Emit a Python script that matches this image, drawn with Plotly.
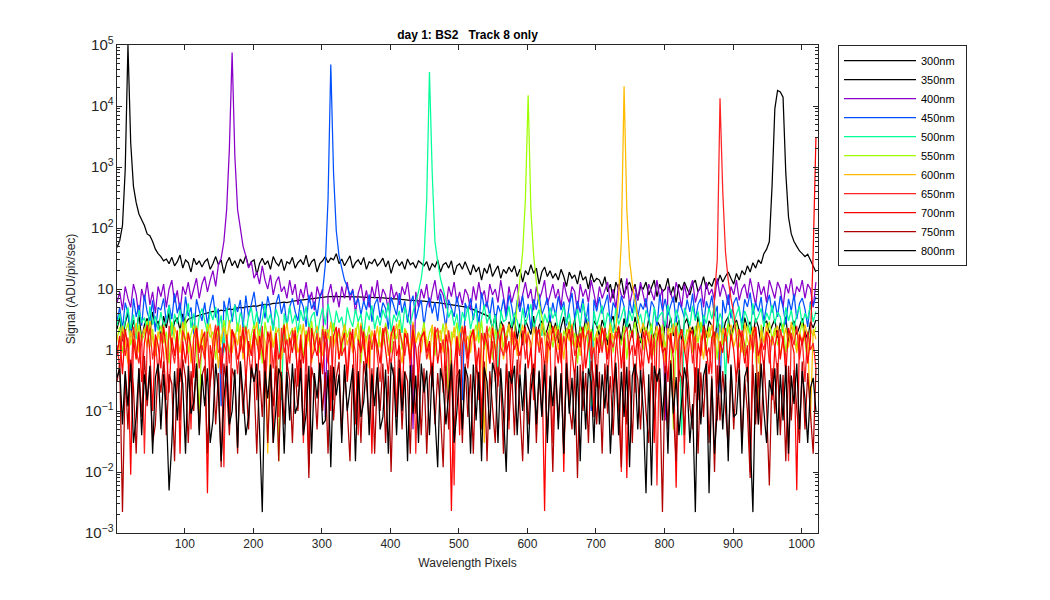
import plotly.graph_objects as go

# pixel index grid (every 4th pixel of the 1024-pixel detector)
pixels = list(range(1, 1024, 4))

labels = ["300nm", "350nm", "400nm", "450nm", "500nm", "550nm",
          "600nm", "650nm", "700nm", "750nm", "800nm"]
colors = ["#000000", "#000000", "#8a00c8", "#0050ff", "#00ff99", "#a0ff00",
          "#ffbb00", "#ff2222", "#ff0000", "#b00000", "#000000"]

s300 = [
 2.2, 3.5, 1.4, 2.8, 4, 1.7, 3.1, 2, 3.8, 1.5, 2.6, 3.3, 1.9, 4.2, 2.4, 3,
 1.6, 3.6, 2.3, 4.1, 1.8, 2.9, 3.4, 2.1, 3.9, 2.7, 3.2, 3.4, 3.5, 3.6, 3.7, 3.8,
 3.9, 4.0, 4.1, 4.3, 4.2, 4.3, 4.5, 4.4, 4.6, 4.7, 4.6, 4.8, 4.9, 5.0, 4.9, 5.1,
 5.1, 5.2, 5.3, 5.2, 5.4, 5.5, 5.6, 5.5, 5.7, 5.8, 5.8, 5.9, 6.0, 6.1, 6.0, 6.2,
 6.3, 6.4, 6.5, 6.6, 6.6, 6.8, 6.9, 7.0, 7.1, 7.2, 7.3, 7.3, 7.4, 7.5, 7.5, 7.6,
 7.6, 7.5, 7.6, 7.5, 7.5, 7.4, 7.5, 7.4, 7.4, 7.3, 7.4, 7.3, 7.3, 7.2, 7.3, 7.2,
 7.2, 7.1, 7.1, 7.0, 7.0, 6.9, 6.9, 6.8, 6.7, 6.7, 6.6, 6.5, 6.5, 6.4, 6.4, 6.3,
 6.3, 6.2, 6.2, 6.1, 6.0, 6.0, 5.9, 5.9, 5.8, 5.7, 5.6, 5.5, 5.4, 5.3, 5.2, 5.1,
 5.0, 4.8, 4.6, 4.4, 4.2, 4.0, 3.8, 3.7, 3.5, 2.2, 3.9, 1.6, 3, 2.4, 1.3, 2.9,
 2.1, 3.4, 1.5, 2.7, 1.2, 3.1, 2.3, 1.8, 3.6, 1.4, 2.5, 3, 1.7, 2.2, 3.3, 1.9,
 2.8, 1.3, 2.4, 3.5, 1.6, 2.9, 2, 3.2, 1.1, 2.6, 1.8, 3.4, 2.2, 1.5, 3, 2.5,
 1.7, 3.1, 2.3, 1.2, 2.8, 3.6, 1.9, 2.4, 1.4, 3.3, 2.1, 2.7, 1.6, 3.5, 2, 1.3,
 2.6, 1.8, 3.2, 2.2, 1.5, 3, 2.5, 1.1, 2.9, 2, 3.4, 1.7, 2.3, 3.1, 1.4, 2.7,
 3.3, 1.9, 2.4, 1.3, 3.6, 2.1, 2.8, 1.6, 3, 2.5, 1.2, 3.2, 2.2, 1.8, 2.9, 3.5,
 1.5, 2.6, 3.1, 2, 1.4, 3.4, 2.3, 2.9, 1.7, 3.3, 2.4, 1.2, 2.7, 3, 1.9, 2.5,
 3.2, 1.6, 2.8, 2.2, 3.5, 1.3, 2.5, 3, 1.8, 2.4, 3.3, 2, 1.5, 2.9, 2.3, 3.1]

s350 = [
 48, 62, 110, 900, 100000, 2500, 480, 260, 170, 140, 110, 80, 75, 60, 45, 38,
 34, 29, 31, 26, 33, 24, 28, 36, 22, 30, 27, 19, 32, 25, 29, 23,
 28, 31, 21, 26, 34, 25, 30, 18, 27, 33, 24, 29, 22, 31, 26, 35,
 23, 28, 30, 17, 26, 32, 25, 29, 21, 34, 27, 24, 31, 20, 28, 26,
 33, 22, 27, 30, 25, 36, 23, 28, 31, 19, 26, 29, 34, 27, 32, 30,
 38, 26, 31, 24, 29, 35, 22, 27, 30, 25, 33, 21, 28, 26, 31, 24,
 27, 32, 23, 29, 18, 26, 30, 24, 28, 21, 31, 25, 27, 22, 29, 26,
 24, 28, 20, 26, 23, 30, 19, 25, 27, 22, 29, 17, 24, 26, 21, 28,
 21, 17, 25, 19, 23, 14, 22, 18, 26, 16, 20, 24, 15, 21, 18, 23,
 19, 24, 16, 21, 13, 20, 17, 25, 18, 22, 12, 19, 23, 16, 20, 15,
 18, 14, 21, 16, 11, 19, 15, 17, 12, 20, 14, 16, 10, 18, 13, 15,
 14, 11, 16, 9, 12, 7, 13, 10, 15, 8, 11, 13, 9, 12, 6.5, 11,
 10, 13, 8, 11, 14, 7.5, 12, 9, 10, 15, 8, 11, 6, 12, 9.5, 13,
 10, 8, 12, 14, 9, 11, 16, 10, 13, 11, 15, 12, 17, 13, 16, 19,
 15, 12, 18, 14, 20, 17, 24, 19, 27, 22, 30, 26, 38, 45, 60, 500,
 9000, 18000, 17000, 14000, 800, 150, 80, 60, 50, 42, 38, 34, 37, 30, 24, 19]

s400 = [
 6, 9, 4.5, 11, 7, 5, 12, 8, 3.5, 10, 6.5, 13, 5.5, 9, 4, 11,
 7.5, 12, 5, 10, 14, 6, 9.5, 4.2, 11, 8, 13, 6.8, 10, 15, 7, 12,
 16, 9, 14, 20, 11, 25, 32, 60, 200, 2000, 75000, 1500, 200, 90, 50, 35,
 22, 28, 15, 19, 12, 24, 14, 10, 17, 8, 13, 16, 9, 11, 7, 14,
 8, 12, 5.5, 10, 7, 13, 6, 9, 4.5, 11, 7.5, 10, 0.08, 8, 12, 6,
 9, 5, 11, 7, 13, 6.5, 10, 4, 8.5, 12, 6, 9.5, 5, 11, 7, 14,
 6, 10, 8, 4.5, 12, 7, 9, 5.5, 11, 8, 13, 6, 0.05, 9, 5, 10,
 7, 12, 5, 9, 14, 6.5, 10, 8, 4.8, 11, 7.5, 13, 6, 9, 5.5, 10,
 8, 4.5, 11, 6.5, 13, 7, 9.5, 5, 12, 8, 10, 6, 14, 7.5, 4, 11,
 6, 9, 12, 5, 8, 13, 7, 10, 4.5, 11, 6.5, 9, 14, 5.5, 8, 12,
 7, 10, 5, 13, 8, 6, 11, 9, 4.2, 12, 7.5, 10, 6, 14, 8.5, 5,
 11, 7, 9.5, 13, 6, 10, 4.8, 12, 8, 7, 15, 5.5, 9, 11, 6.5, 13,
 8, 5, 12, 9, 6.5, 14, 7, 10, 0.07, 11, 8.5, 6, 13, 9, 5, 12,
 7, 10, 14, 6, 9, 11.5, 5, 13, 8, 10, 6.5, 15, 7.5, 12, 9, 5.5,
 11, 8, 14, 6.5, 10, 12, 7, 15, 9, 5.5, 13, 8, 11, 6, 14, 9.5,
 7, 13, 10, 5, 12, 8.5, 15, 6.5, 11, 9, 14, 7, 12, 10, 5, 13]

s450 = [
 3, 5, 2.2, 6, 4, 1.6, 7, 3.5, 5.5, 2.5, 8, 4.2, 3, 6.5, 2, 5,
 4.5, 7, 2.8, 5.5, 3.2, 8.5, 4, 6, 2.4, 7.5, 3.6, 5, 1.8, 6.8, 4.4, 3,
 6, 2.6, 5.2, 8, 3.4, 4.8, 0.12, 6.4, 3.8, 7.2, 2.9, 5.6, 4.2, 6.6, 2.3, 7.8,
 3.5, 5.4, 9, 4, 2.7, 6.2, 3.3, 7.6, 4.6, 2.1, 5.8, 8.2, 3.9, 6, 2.5, 5.1,
 7, 4.3, 3, 6.8, 5, 2.4, 8, 4.7, 6.2, 3.6, 7.4, 9, 25, 300, 48000, 800,
 90, 35, 22, 14, 11, 8, 9.5, 5.5, 7, 3.8, 6.4, 4.5, 8.2, 2.9, 5.6, 7,
 3.4, 6, 4.8, 2.2, 7.4, 5.2, 3.7, 8.6, 4.1, 6.3, 2.8, 5.7, 7.8, 3.2, 4.9, 6.6,
 2.5, 5.3, 7.2, 4, 6.1, 3, 8.4, 4.6, 2.3, 6.7, 5, 3.5, 7.6, 4.3, 0.15, 5.9,
 4.4, 7, 3.1, 5.8, 2.6, 8.8, 4.9, 6.2, 3.6, 7.3, 2.9, 5.4, 4, 6.9, 3.3, 8,
 5.2, 2.7, 6.6, 4.2, 7.9, 3.4, 5.7, 2.2, 6.8, 4.6, 8.3, 3.8, 5.1, 7.2, 2.9, 6,
 3.6, 7.6, 4.5, 6.2, 2.5, 5.5, 8.6, 3.2, 6.4, 4.1, 7, 2.8, 5.9, 0.1, 6.7, 4.3,
 7.4, 3.9, 5.6, 8.1, 2.6, 6, 4.7, 3.3, 7.7, 5.2, 2.4, 6.5, 4, 8.5, 3.5, 5.8,
 4.6, 7.1, 3, 6.3, 5, 2.3, 8, 4.4, 6.9, 3.7, 5.4, 7.5, 2.8, 6.1, 4.8, 3.4,
 6.7, 4.2, 8.4, 3.1, 5.6, 7, 2.5, 6.3, 4.5, 7.8, 3.6, 5.3, 0.2, 6.6, 4, 8.2,
 3.3, 5.9, 7.3, 4.6, 2.7, 6.8, 5.1, 8.7, 3.8, 6, 4.3, 7.4, 2.9, 5.5, 8, 4.1,
 6.4, 3.5, 7.7, 5, 2.6, 6.9, 4.4, 8.3, 3.2, 5.8, 7.1, 4.7, 2.4, 6.2, 5.3, 7.5]

s500 = [
 2.5, 4, 1.8, 3.2, 5, 2.2, 3.8, 1.5, 4.5, 2.8, 3.4, 1.9, 5.2, 2.6, 3.6, 2.1,
 4.2, 2.4, 3, 5.4, 1.7, 3.9, 2.7, 4.6, 2, 3.3, 5.8, 2.3, 4, 1.6, 3.5, 4.8,
 2.9, 1.9, 4.4, 3.1, 5.1, 2.2, 3.7, 0.9, 4.9, 2.6, 3.4, 5.5, 2, 4.1, 3, 1.8,
 3.6, 5, 2.4, 4.3, 1.7, 3.2, 5.6, 2.8, 3.9, 2.1, 4.7, 3.3, 0.15, 4, 2.5, 5.3,
 2.7, 3.8, 1.9, 4.5, 3, 5.2, 2.3, 3.6, 4.2, 1.6, 3.1, 4.9, 2.6, 5.7, 3.4, 2,
 4.4, 2.8, 3.5, 1.8, 5, 3.2, 2.4, 4.7, 2.9, 3.9, 1.7, 4.3, 3.1, 5.4, 2.2, 3.7,
 2.5, 4.6, 3.3, 5.9, 2, 3.8, 2.9, 4.4, 1.9, 5.1, 3.5, 2.6, 4.2, 6, 9, 15,
 32, 300, 36000, 800, 60, 28, 15, 10, 6.5, 3.4, 4.6, 2.5, 3.9, 1.8, 4.2, 3,
 5.1, 2.2, 3.6, 4.8, 1.6, 3.3, 5.5, 2.7, 4, 2.1, 3.8, 0.3, 4.5, 2.9, 3.2, 5.3,
 2.4, 4.1, 3, 1.9, 4.9, 2.6, 3.7, 5.6, 2.2, 3.4, 4.6, 1.7, 3.9, 2.8, 5, 3.3,
 4.3, 2, 3.5, 5.2, 2.7, 4, 1.8, 3.1, 4.7, 2.4, 5.8, 3.6, 2.9, 0.12, 4.4, 2.5,
 3.8, 5.4, 2.3, 4.1, 3.2, 1.9, 4.8, 2.6, 3.5, 5.1, 2.1, 4.4, 3, 5.7, 2.7, 3.9,
 2.2, 4.5, 3.4, 1.7, 5, 2.9, 3.7, 4.2, 2.4, 5.5, 3.1, 2, 4.6, 3.3, 0.04, 4.9,
 3.6, 2.5, 5.3, 3, 4.3, 1.9, 3.8, 2.7, 4.9, 3.2, 5.6, 2.3, 4, 2.9, 0.3, 3.5,
 4.7, 2.6, 3.9, 5.2, 2.1, 4.4, 3.3, 1.8, 5.8, 2.8, 3.6, 4.8, 2.4, 4.1, 3.1, 5.5,
 2.7, 4.2, 3.5, 1.9, 5, 3, 4.5, 2.3, 3.8, 5.3, 2.6, 4, 3.2, 5.6, 2.9, 4.3]

s550 = [
 1.5, 2.4, 0.9, 1.9, 2.8, 1.2, 2.1, 0.7, 2.6, 1.4, 1.8, 3, 1.1, 2.2, 0.8, 1.7,
 2.5, 1.3, 2, 0.6, 2.9, 1.6, 1, 2.3, 1.4, 3.2, 0.9, 1.8, 2.6, 1.2, 0.08, 2.1,
 1.1, 2.7, 1.6, 2, 0.7, 2.4, 1.3, 3.1, 1.7, 0.9, 2.2, 1.5, 2.8, 1, 1.9, 2.5,
 0.8, 1.8, 2.6, 1.2, 2.2, 0.6, 2.9, 1.5, 1.9, 1.1, 2.4, 0.015, 2, 2.7, 1.3, 1.7,
 2.3, 1, 1.8, 2.6, 0.7, 2.1, 1.4, 3, 1.2, 1.9, 0.9, 2.5, 1.6, 2.2, 1.1, 2.8,
 1.3, 2, 0.8, 2.7, 1.6, 2.3, 1, 1.8, 2.9, 0.6, 2.2, 1.4, 2.5, 1.1, 1.9, 0.9,
 2.4, 1.2, 2.8, 1.7, 0.9, 2.1, 1.5, 3.1, 1, 2.3, 1.8, 0.7, 2.6, 1.3, 2, 1.6,
 2.9, 1.1, 1.9, 2.5, 0.8, 2.2, 1.4, 2.7, 1.2, 0.15, 2, 1.6, 2.8, 1, 2.3, 1.5,
 0.9, 2.1, 1.7, 2.6, 1.3, 3, 1, 1.8, 2.4, 0.7, 2.2, 1.5, 2.7, 1.1, 1.9, 2.5,
 1.2, 2, 5, 15, 40, 300, 15000, 200, 35, 13, 6, 3.5, 2.3, 1.4, 2.8, 1.1,
 1.8, 2.5, 0.8, 2.1, 1.5, 2.9, 1.2, 1.9, 0.6, 2.4, 1.6, 2.7, 1, 2.2, 1.4, 1.9,
 2.6, 1.1, 2, 1.5, 2.8, 0.9, 2.3, 1.7, 1.2, 2.5, 0.7, 2.1, 1.8, 2.9, 1.3, 1.6,
 1, 2.4, 1.6, 2.7, 0.8, 2, 1.4, 2.6, 1.1, 1.9, 2.3, 0.05, 2.8, 1.5, 2.1, 1.2,
 2.2, 1.7, 0.9, 2.5, 1.3, 2.9, 1.8, 1, 2.4, 1.5, 2, 0.7, 2.6, 1.2, 1.9, 2.7,
 1.4, 2.1, 2.8, 1.1, 1.7, 0.8, 2.5, 1.6, 2.2, 1, 0.1, 2.6, 1.3, 2, 2.9, 1.5,
 2.3, 1.2, 1.9, 2.7, 0.9, 2.1, 1.6, 2.5, 1.1, 1.8, 2.8, 1.4, 0.6, 2.2, 1.7, 2.4]

s600 = [
 1.8, 1, 2.5, 1.4, 0.6, 2.1, 1.2, 2.8, 0.9, 1.6, 2.3, 1.1, 3, 1.5, 0.8, 2,
 1.3, 2.6, 0.7, 1.9, 1.2, 2.4, 1.6, 0.9, 2.9, 1.4, 2, 0.6, 1.7, 2.5, 1, 2.2,
 0.8, 1.8, 2.7, 1.1, 2.1, 0.5, 1.5, 2.4, 1.3, 3.1, 0.9, 1.9, 1.2, 2.6, 0.7, 1.6,
 2.2, 1, 1.7, 2.9, 0.8, 2, 1.4, 0.02, 2.5, 1.1, 1.8, 2.3, 0.7, 1.5, 2.8, 1.2,
 1.6, 2.4, 0.9, 1.3, 2.7, 1, 2, 0.6, 1.8, 2.5, 1.2, 0.8, 2.2, 1.5, 2.9, 1.1,
 2, 0.7, 1.6, 2.6, 1.2, 1.9, 0.9, 2.3, 1.4, 2.8, 1, 1.7, 0.5, 2.1, 1.3, 2.5,
 1.1, 1.8, 2.4, 0.8, 2, 1.5, 2.7, 1.2, 0.6, 2.2, 1.6, 1, 2.9, 1.3, 1.9, 0.9,
 2.3, 1.4, 0.7, 2.6, 1.1, 1.8, 2.1, 0.9, 2.8, 1.5, 1.2, 2.4, 0.8, 1.9, 2.5, 1.3,
 1.7, 0.9, 2.2, 1.4, 2.9, 1.1, 0.03, 2, 1.6, 2.5, 1, 1.8, 2.3, 0.7, 1.5, 2.7,
 1.2, 2.1, 0.8, 1.7, 2.6, 1.3, 2, 0.9, 2.4, 1.5, 1.1, 2.8, 1.6, 0.6, 2.2, 1.4,
 2.5, 1, 1.9, 0.7, 2.3, 1.4, 2.7, 1.1, 1.8, 0.8, 2.1, 1.5, 2.9, 1.2, 0.9, 2,
 1.3, 2.4, 1.7, 0.9, 2.6, 1.5, 2.2, 8, 60, 21000, 200, 30, 12, 6, 3.5, 1.9,
 2.8, 1.2, 2, 0.8, 1.6, 2.5, 1.1, 1.9, 0.6, 2.3, 1.4, 2.7, 1, 1.7, 2.2, 0.9,
 1.5, 2.4, 1.8, 1, 2.9, 1.3, 0.7, 2.1, 1.6, 2.6, 1.2, 1.9, 0.8, 2.3, 1.4, 2,
 2.6, 1.1, 1.7, 2.2, 0.9, 2.8, 1.5, 1, 2.4, 1.8, 0.6, 2.1, 1.3, 2.7, 1.6, 1.2,
 1.9, 2.5, 0.8, 1.4, 2.3, 1.1, 2.9, 1.6, 0.9, 2, 1.3, 2.6, 1.7, 0.07, 2.2, 1.5]

s650 = [
 1.2, 0.5, 2, 0.8, 1.6, 0.3, 2.4, 1, 0.6, 1.8, 0.02, 1.3, 2.2, 0.7, 1.5, 0.4,
 1.9, 0.9, 0.15, 2.5, 1.1, 0.6, 1.7, 0.3, 2.1, 1.4, 0.8, 0.05, 1.6, 2.3, 0.5, 1.2,
 0.7, 2, 0.25, 1.4, 2.6, 0.9, 1.1, 0.012, 1.8, 0.6, 2.2, 1.3, 0.4, 1.7, 0.9, 2.4,
 1, 0.35, 1.9, 1.4, 0.7, 2.5, 0.2, 1.2, 2, 0.5, 1.6, 0.08, 2.3, 0.9, 1.5, 0.6,
 2.1, 1.2, 0.4, 1.8, 0.03, 1.4, 2.4, 0.7, 1, 1.9, 0.3, 2.2, 1.3, 0.6, 1.7, 0.15,
 1.5, 2.3, 0.8, 1.1, 0.4, 2, 1.6, 0.9, 0.04, 2.5, 1.2, 0.5, 1.8, 1, 2.1, 0.7,
 0.3, 1.7, 2.4, 1, 0.6, 1.4, 0.1, 2.2, 1.3, 0.8, 1.9, 0.5, 2.6, 0.02, 1.1, 1.6,
 2, 0.7, 1.2, 0.25, 1.8, 2.3, 0.9, 1.5, 0.45, 2.1, 1, 0.006, 1.7, 0.8, 2.4, 1.3,
 0.5, 1.6, 2.2, 0.9, 0.15, 1.9, 1.2, 2.5, 0.6, 1.4, 0.3, 2, 1.1, 0.8, 1.7, 0.05,
 2.3, 1, 1.5, 0.4, 2.1, 0.7, 1.8, 1.3, 0.2, 2.4, 0.9, 1.6, 0.5, 2, 1.2, 0.03,
 1.4, 2.2, 0.6, 1.7, 1, 0.12, 2.5, 0.8, 1.3, 1.9, 0.4, 1.6, 2.1, 0.7, 1.1, 0.25,
 1.8, 0.9, 2.3, 0.35, 1.5, 1.1, 2, 0.6, 0.01, 1.7, 2.4, 0.8, 1.2, 0.2, 1.9, 1,
 0.5, 2.1, 1.4, 0.7, 1.6, 0.006, 2.2, 1, 0.4, 1.8, 1.3, 0.9, 2.5, 0.3, 1.5, 0.02,
 1.2, 2, 0.6, 1.7, 0.15, 1.4, 2.3, 0.8, 1.1, 0.4, 8, 30, 13400, 400, 40, 14,
 7, 4, 1.6, 0.5, 2.1, 1.2, 0.3, 1.8, 0.9, 2.4, 0.06, 1.5, 1, 2, 0.6, 1.7,
 1.1, 0.4, 2.2, 1.4, 0.8, 0.015, 1.9, 1.2, 2.5, 0.7, 1.6, 0.3, 2, 1, 1.3, 0.5]

s700 = [
 0.8, 1.7, 0.4, 2.2, 1.1, 0.009, 1.5, 0.7, 2, 0.3, 1.3, 2.6, 0.9, 0.1, 1.8, 1.2,
 0.5, 2.4, 1, 0.2, 1.6, 0.8, 2.1, 0.02, 1.4, 0.6, 1.9, 1.1, 0.35, 2.3, 0.9, 1.5,
 2, 0.0045, 1.2, 0.6, 1.8, 2.5, 0.4, 1.3, 0.9, 0.07, 2.1, 1.6, 0.7, 1, 2.4, 0.3,
 1.4, 0.8, 2.2, 0.15, 1.7, 1, 0.5, 2, 1.3, 0.03, 1.9, 0.7, 1.1, 2.6, 0.45, 1.6,
 0.9, 2.1, 0.25, 1.5, 0.6, 1.8, 0.012, 2.3, 1.2, 0.8, 1.6, 0.4, 2, 1, 0.1, 1.7,
 2.4, 0.7, 1.3, 1.9, 0.3, 1.1, 2.2, 0.06, 1.5, 0.9, 2, 0.5, 1.4, 0.02, 1.8, 1.2,
 0.6, 2.3, 1, 0.4, 1.7, 2.5, 0.8, 1.2, 0.15, 1.9, 1.4, 0.7, 2.1, 1.1, 0.35, 1.6,
 2, 0.9, 1.4, 0.3, 2.4, 0.6, 1.3, 0.2, 1.8, 1, 0.0023, 0.5, 1.6, 0.04, 1.2, 2.5,
 0.7, 1.6, 2.1, 0.45, 1.1, 0.08, 1.9, 1.3, 0.6, 2.3, 1, 0.25, 1.7, 2.6, 0.9, 1.4,
 0.3, 2, 1.2, 0.8, 1.6, 2.4, 0.5, 1.1, 0.15, 1.8, 2.2, 0.7, 0.0023, 1.4, 1, 2.5,
 1.3, 0.6, 1.9, 0.01, 1.5, 2.2, 0.9, 0.35, 1.7, 1.1, 2.4, 0.5, 1.2, 2, 0.08, 1.6,
 0.9, 2.3, 1.4, 0.7, 1.9, 0.2, 1.1, 2.5, 0.5, 1.6, 0.008, 1.3, 2.1, 0.8, 1.7, 0.4,
 2, 1.2, 0.6, 1.8, 0.03, 1.4, 2.4, 0.9, 1.1, 0.3, 1.9, 0.7, 0.0055, 1.5, 2.2, 1,
 0.5, 1.7, 2.1, 0.2, 1.3, 0.8, 2.5, 1.1, 0.4, 1.6, 2, 0.07, 1.4, 0.9, 2.3, 0.6,
 1.8, 1, 0.3, 2.2, 1.5, 0.6, 1.2, 0.01, 1.9, 2.4, 0.8, 1.3, 0.5, 2, 1.6, 0.15,
 1.1, 2.1, 0.7, 1.7, 0.4, 2.3, 1.4, 0.9, 0.005, 1.8, 1.2, 2, 0.6, 1.5, 40, 3000]

s750 = [
 0.3, 0.6, 0.0022, 0.4, 0.05, 0.7, 0.25, 0.02, 0.5, 0.08, 0.8, 0.12, 0.45, 0.03, 0.06, 0.55,
 0.2, 0.65, 0.04, 0.4, 0.28, 0.015, 0.5, 0.07, 0.7, 0.35, 0.03, 0.45, 0.1, 0.6, 0.05, 0.38,
 0.55, 0.02, 0.3, 0.72, 0.06, 0.42, 0.012, 0.6, 0.26, 0.04, 0.5, 0.33, 0.02, 0.65, 0.09, 0.4,
 0.05, 0.58, 0.3, 0.02, 0.46, 0.08, 0.68, 0.03, 0.38, 0.12, 0.55, 0.015, 0.44, 0.06, 0.62, 0.32,
 0.03, 0.5, 0.1, 0.7, 0.04, 0.4, 0.008, 0.52, 0.3, 0.05, 0.6, 0.1, 0.43, 0.02, 0.56, 0.07,
 0.36, 0.64, 0.04, 0.48, 0.11, 0.015, 0.58, 0.07, 0.4, 0.03, 0.66, 0.3, 0.06, 0.5, 0.02, 0.44,
 0.1, 0.6, 0.03, 0.38, 0.01, 0.52, 0.08, 0.7, 0.05, 0.45, 0.31, 0.02, 0.57, 0.09, 0.4, 0.04,
 0.5, 0.02, 0.35, 0.62, 0.06, 0.42, 0.1, 0.012, 0.55, 0.05, 0.68, 0.04, 0.37, 0.48, 0.03, 0.6,
 0.08, 0.4, 0.02, 0.57, 0.3, 0.05, 0.65, 0.015, 0.45, 0.1, 0.03, 0.53, 0.34, 0.02, 0.6, 0.07,
 0.47, 0.04, 0.7, 0.11, 0.015, 0.5, 0.06, 0.38, 0.6, 0.03, 0.43, 0.09, 0.66, 0.04, 0.35, 0.01,
 0.55, 0.07, 0.4, 0.02, 0.62, 0.12, 0.05, 0.48, 0.008, 0.58, 0.1, 0.42, 0.03, 0.67, 0.3, 0.06,
 0.44, 0.02, 0.6, 0.09, 0.37, 0.04, 0.52, 0.11, 0.012, 0.64, 0.06, 0.46, 0.03, 0.57, 0.33, 0.05,
 0.5, 0.1, 0.03, 0.62, 0.07, 0.41, 0.3, 0.0022, 0.55, 0.05, 0.68, 0.09, 0.015, 0.47, 0.35, 0.04,
 0.6, 0.12, 0.05, 0.52, 0.02, 0.43, 0.08, 0.66, 0.03, 0.38, 0.01, 0.56, 0.07, 0.45, 0.1, 0.025,
 0.53, 0.05, 0.4, 0.63, 0.03, 0.34, 0.1, 0.008, 0.58, 0.06, 0.44, 0.04, 0.67, 0.12, 0.006, 0.5,
 0.09, 0.61, 0.04, 0.39, 0.015, 0.55, 0.07, 0.47, 0.11, 0.03, 0.65, 0.05, 0.42, 0.1, 0.02, 0.5]

s800 = [
 0.35, 0.5, 0.06, 0.45, 0.12, 0.6, 0.03, 0.08, 0.5, 0.04, 0.4, 0.15, 0.55, 0.02, 0.35, 0.6,
 0.05, 0.4, 0.1, 0.005, 0.03, 0.45, 0.07, 0.5, 0.28, 0.02, 0.55, 0.09, 0.14, 0.6, 0.04, 0.4,
 0.12, 0.5, 0.03, 0.07, 0.6, 0.2, 0.015, 0.15, 0.55, 0.06, 0.1, 0.48, 0.025, 0.65, 0.18, 0.04,
 0.08, 0.52, 0.3, 0.6, 0.05, 0.0022, 0.45, 0.16, 0.58, 0.03, 0.11, 0.5, 0.35, 0.02, 0.44, 0.07,
 0.6, 0.09, 0.13, 0.5, 0.04, 0.09, 0.55, 0.02, 0.42, 0.16, 0.62, 0.06, 0.07, 0.47, 0.012, 0.53,
 0.18, 0.4, 0.03, 0.58, 0.1, 0.22, 0.5, 0.015, 0.45, 0.08, 0.14, 0.6, 0.04, 0.4, 0.12, 0.52,
 0.05, 0.08, 0.48, 0.02, 0.62, 0.36, 0.04, 0.5, 0.1, 0.43, 0.015, 0.56, 0.09, 0.38, 0.03, 0.6,
 0.2, 0.46, 0.04, 0.55, 0.09, 0.012, 0.5, 0.27, 0.06, 0.17, 0.6, 0.03, 0.1, 0.48, 0.05, 0.53,
 0.35, 0.02, 0.58, 0.07, 0.44, 0.015, 0.52, 0.3, 0.05, 0.62, 0.4, 0.03, 0.5, 0.09, 0.01, 0.45,
 0.28, 0.55, 0.04, 0.4, 0.1, 0.6, 0.02, 0.21, 0.5, 0.06, 0.46, 0.08, 0.58, 0.03, 0.38, 0.12,
 0.52, 0.05, 0.42, 0.02, 0.6, 0.09, 0.35, 0.04, 0.55, 0.015, 0.45, 0.05, 0.5, 0.3, 0.03, 0.58,
 0.06, 0.4, 0.11, 0.56, 0.02, 0.19, 0.62, 0.04, 0.44, 0.08, 0.53, 0.012, 0.38, 0.6, 0.05, 0.47,
 0.1, 0.0045, 0.4, 0.006, 0.55, 0.3, 0.5, 0.07, 0.42, 0.02, 0.6, 0.09, 0.36, 0.04, 0.16, 0.52,
 0.28, 0.03, 0.13, 0.0022, 0.5, 0.06, 0.38, 0.6, 0.0045, 0.34, 0.02, 0.11, 0.55, 0.05, 0.4, 0.015,
 0.58, 0.08, 0.09, 0.48, 0.02, 0.36, 0.53, 0.04, 0.0022, 0.42, 0.06, 0.6, 0.1, 0.03, 0.32, 0.18,
 0.5, 0.04, 0.4, 0.07, 0.56, 0.02, 0.38, 0.13, 0.6, 0.05, 0.45, 0.16, 0.03, 0.24, 0.35, 0.1]

series = [s300, s350, s400, s450, s500, s550, s600, s650, s700, s750, s800]

fig = go.Figure()
for name, col, vals in zip(labels, colors, series):
    fig.add_trace(go.Scatter(x=pixels, y=vals, mode="lines",
                             name=name + "\u00a0\u00a0",
                             line=dict(color=col, width=1.25)))

# The page body has an 8px margin, so the figure is sized 8px smaller
# and the margins are offset to land the axes where the reference has them.
W, H = 1042, 592
L, R, T, B = 109, 1042 - 810, 37, 592 - 525
axis_col = "#262626"
fig.update_layout(
    width=W, height=H,
    paper_bgcolor="white", plot_bgcolor="white",
    margin=dict(l=L, r=R, t=T, b=B, autoexpand=False),
    font=dict(family="Liberation Sans, Arial, sans-serif", size=12, color=axis_col),
    title=dict(text="<b>day 1: BS2\u00a0\u00a0\u00a0Track 8 only</b>",
               x=(L + 810) / 2 / W, xanchor="center", y=1 - 27 / H, yanchor="middle",
               font=dict(size=12, color="#000000")),
    showlegend=True,
    legend=dict(x=(830 - L) / (810 - L), y=1.0, xanchor="left", yanchor="top",
                bordercolor="#262626", borderwidth=1, bgcolor="white",
                font=dict(size=11, color="#000000"), itemwidth=72,
                tracegroupgap=0),
)
fig.update_xaxes(
    range=[1, 1024], tickvals=[100, 200, 300, 400, 500, 600, 700, 800, 900, 1000],
    ticks="inside", ticklen=5, tickcolor=axis_col, showline=True, linecolor=axis_col,
    linewidth=1, mirror="ticks", showgrid=False, zeroline=False, automargin=False,
    title=dict(text="Wavelength Pixels", standoff=8, font=dict(size=12)),
    tickfont=dict(size=12),
)
fig.update_yaxes(
    type="log", range=[-3, 5], dtick=1, exponentformat="power", showexponent="all",
    ticks="inside", ticklen=5, tickcolor=axis_col, showline=True, linecolor=axis_col,
    linewidth=1, mirror="ticks", showgrid=False, zeroline=False, automargin=False,
    minor=dict(ticks="inside", ticklen=3, dtick="D1", tickcolor=axis_col, showgrid=False),
    title=dict(text="Signal (ADU/pix/sec)", standoff=6, font=dict(size=12)),
    tickfont=dict(size=12),
)

fig.write_html("out.html")
